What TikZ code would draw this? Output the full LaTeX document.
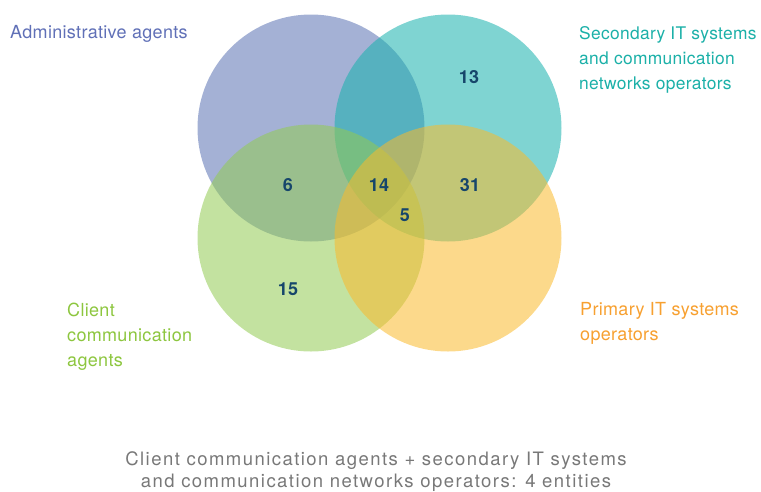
\documentclass[tikz,border=0pt]{standalone}
\usepackage{fontspec}
\setmainfont{TeX Gyre Heros}
\newfontfamily\labelfont[LetterSpace=1.8]{TeX Gyre Heros}
\newfontfamily\captionfont[LetterSpace=7.9]{TeX Gyre Heros}
\begin{document}
\begin{tikzpicture}[x=1pt,y=-1pt]
\definecolor{admin}{RGB}{90,113,179}
\definecolor{second}{RGB}{22,177,173}
\definecolor{client}{RGB}{146,202,82}
\definecolor{primary}{RGB}{250,186,43}
\definecolor{admintext}{RGB}{96,112,183}
\definecolor{secondtext}{RGB}{27,176,168}
\definecolor{clienttext}{RGB}{141,198,63}
\definecolor{primarytext}{RGB}{247,160,48}
\definecolor{numtext}{RGB}{22,70,107}
\definecolor{captext}{RGB}{120,120,120}
\tikzset{
  setcircle/.style={circle, minimum size=227pt, inner sep=0pt, fill opacity=0.55, draw=none},
  count/.style={font=\fontsize{18}{20}\selectfont\bfseries, text=numtext, inner sep=0pt},
  setlabel/.style={font=\labelfont\fontsize{18}{25}\selectfont, align=left, anchor=west, inner sep=0pt},
}
\useasboundingbox (0,0) rectangle (761,491);
% the four sets
\node[setcircle, fill=admin] (A) at (311,128) {};
\node[setcircle, fill=second] (S) at (448,128) {};
\node[setcircle, fill=client] (C) at (311,238) {};
\node[setcircle, fill=primary] (P) at (448,238) {};
% region counts
\node[count] (n13) at (469,77) {13};
\node[count] (n6) at (288,185) {6};
\node[count] (n14) at (379,185) {14};
\node[count] (n31) at (470,185) {31};
\node[count] (n5) at (405,215) {5};
\node[count] (n15) at (288,289) {15};
% set labels
\node[setlabel, text=admintext] (lA) at (10,34) {Administrative agents};
\node[setlabel, font=\labelfont\fontsize{17.4}{25}\selectfont, text=secondtext] (lS) at (579,59.5) {Secondary IT systems\\and communication\\networks operators};
\node[setlabel, text=clienttext] (lC) at (67,336.5) {Client\\communication\\agents};
\node[setlabel, text=primarytext] (lP) at (580,323) {Primary IT systems\\operators};
% caption
\node[font=\captionfont\fontsize{18.5}{22}\selectfont, text=captext, align=center, inner sep=0pt] (cap) at (376,472) {Client communication agents + secondary IT systems\\and communication networks operators: 4 entities};
\end{tikzpicture}
\end{document}
